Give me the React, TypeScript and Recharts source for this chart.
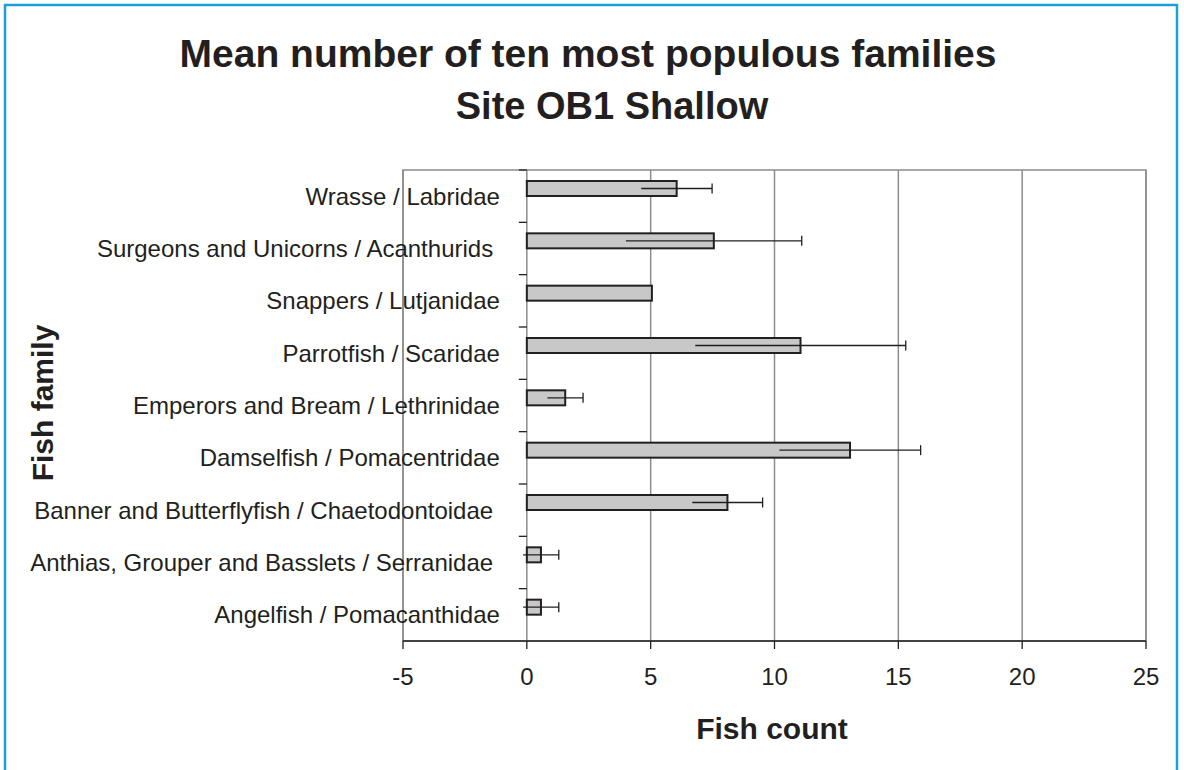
import React from 'react';
import { BarChart, Bar, XAxis, YAxis, CartesianGrid, ReferenceArea } from 'recharts';

// mean fish count per family, with the error half-width
const families = [
  'Wrasse / Labridae',
  'Surgeons and Unicorns / Acanthurids ',
  'Snappers / Lutjanidae',
  'Parrotfish / Scaridae',
  'Emperors and Bream / Lethrinidae',
  'Damselfish / Pomacentridae',
  'Banner and Butterflyfish / Chaetodontoidae ',
  'Anthias, Grouper and Basslets / Serranidae ',
  'Angelfish / Pomacanthidae',
];
const meanCount = [6.05, 7.55, 5.05, 11.05, 1.55, 13.05, 8.1, 0.57, 0.57];
const errorSize = [1.43, 3.55, 0, 4.25, 0.72, 2.85, 1.42, 0.72, 0.72];
const xTicks = [-5, 0, 5, 10, 15, 20, 25];

const W = 1184;
const H = 770;
const MARGIN = { top: 170, right: 38, bottom: 69, left: 0 };
const Y_AXIS_W = 403;
const X_AXIS_H = 60;
const PLOT_W = W - MARGIN.right - MARGIN.left - Y_AXIS_W;
const PLOT_H = H - MARGIN.top - MARGIN.bottom - X_AXIS_H;
// x position of the value 0, where Excel put the category axis
const X_ZERO = MARGIN.left + Y_AXIS_W + (PLOT_W * (0 - xTicks[0])) / (xTicks[xTicks.length - 1] - xTicks[0]);

const INK = '#231f20';
const GRID = '#8c8c8c';
const FONT = '"Liberation Sans", Arial, Helvetica, sans-serif';

const data = families.map((family, i) => ({
  family,
  mean: meanCount[i],
  err: errorSize[i],
}));

const FamilyTick = (props: any) => {
  const { y, payload } = props;
  const band = PLOT_H / families.length;
  return (
    <g>
      <text
        x={X_ZERO - 27}
        y={y}
        dy="0.36em"
        textAnchor="end"
        fontSize={24}
        fontFamily={FONT}
        fill={INK}
        style={{ whiteSpace: 'pre' }}
      >
        {payload.value}
      </text>
      <line x1={X_ZERO - 8} x2={X_ZERO} y1={y - band / 2} y2={y - band / 2} stroke={INK} strokeWidth={1.3} />
    </g>
  );
};

const MeanBar = (props: any) => {
  const { x, y, width, height, payload } = props;
  if (![x, y, width, height].every((v) => Number.isFinite(v))) return null;
  const perUnit = payload.mean ? width / payload.mean : 0;
  const e = payload.err * perUnit;
  const end = x + width;
  const cy = y + height / 2;
  return (
    <g>
      <rect x={x} y={y} width={width} height={height} fill="#c8c8c8" stroke={INK} strokeWidth={2} />
      {e > 0 && (
        <g stroke={INK} strokeWidth={1.3}>
          <line x1={end - e} x2={end + e} y1={cy} y2={cy} />
          <line x1={end + e} x2={end + e} y1={cy - 5} y2={cy + 5} />
        </g>
      )}
    </g>
  );
};

export default function App() {
  return (
    <div style={{ position: 'absolute', left: 0, top: 0, width: W, height: H, background: '#fff' }}>
      <BarChart
        width={W}
        height={H}
        data={data}
        layout="vertical"
        margin={MARGIN}
        barGap={0}
      >
        <CartesianGrid horizontal={false} stroke={GRID} strokeWidth={1.5} />
        <ReferenceArea
          x1={xTicks[0]}
          x2={xTicks[xTicks.length - 1]}
          fill="none"
          stroke={GRID}
          strokeWidth={1.5}
          ifOverflow="visible"
        />
        <XAxis
          type="number"
          domain={[xTicks[0], xTicks[xTicks.length - 1]]}
          ticks={xTicks}
          height={X_AXIS_H}
          tickSize={8}
          tickMargin={19}
          axisLine={{ stroke: INK, strokeWidth: 1.3 }}
          tickLine={{ stroke: INK, strokeWidth: 1.3 }}
          tick={{ fontSize: 24, fontFamily: FONT, fill: INK }}
        />
        <YAxis
          type="category"
          dataKey="family"
          width={Y_AXIS_W}
          interval={0}
          axisLine={false}
          tickLine={false}
          tick={<FamilyTick />}
        />
        <Bar dataKey="mean" barSize={15} shape={<MeanBar />} isAnimationActive={false} />
        <Bar dataKey="blank" barSize={15} isAnimationActive={false} />
      </BarChart>
      <svg
        width={W}
        height={H}
        style={{ position: 'absolute', left: 0, top: 0, pointerEvents: 'none' }}
      >
        <rect x={5} y={5} width={1172} height={780} fill="none" stroke="#1a9fdb" strokeWidth={2.5} />
        <g fontFamily={FONT} fontWeight="bold" fill={INK} textAnchor="middle">
          <text x={588} y={67} fontSize={39}>Mean number of ten most populous families</text>
          <text x={612} y={119} fontSize={38}>Site OB1 Shallow</text>
          <text x={772} y={739} fontSize={30}>Fish count</text>
          <text x={53} y={403} fontSize={30} transform="rotate(-90 53 403)">Fish family</text>
        </g>
      </svg>
    </div>
  );
}
